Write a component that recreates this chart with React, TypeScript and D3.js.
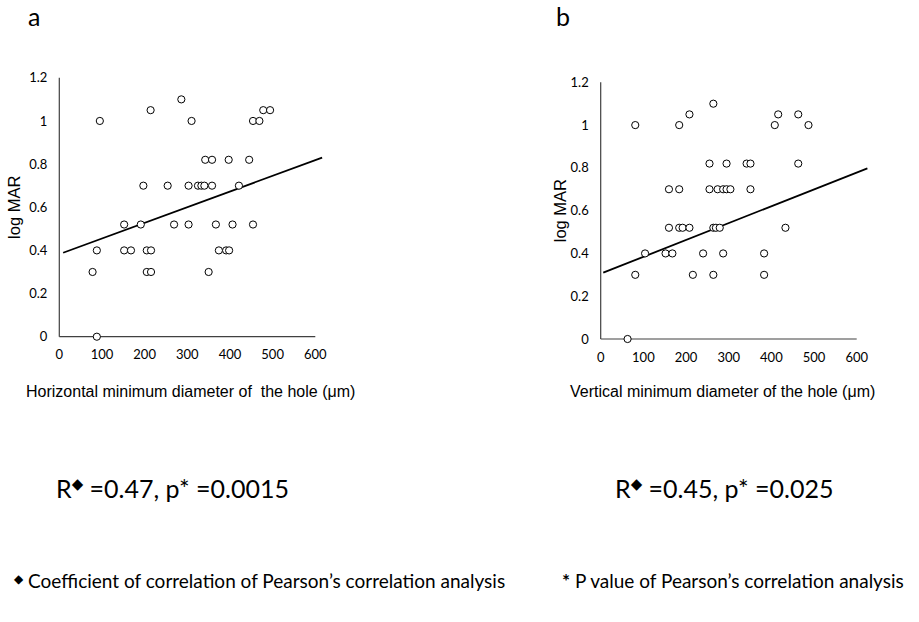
import React from "react";
import * as d3 from "d3";

// panel a: horizontal minimum diameter vs log MAR
const horizDiameter = [95, 78, 88, 88, 152, 168, 152, 191, 197, 205, 215, 205, 215, 214, 254, 269, 286, 303, 303, 310,
    325, 333, 340, 358, 342, 358, 350, 367, 374, 391, 398, 397, 406, 421, 445, 454, 454, 469, 478, 494];
const logMarA = [1.0, 0.3, 0.4, 0, 0.4, 0.4, 0.52, 0.52, 0.7, 0.4, 0.4, 0.3, 0.3, 1.05, 0.7, 0.52, 1.1, 0.7, 0.52, 1.0,
    0.7, 0.7, 0.7, 0.7, 0.82, 0.82, 0.3, 0.52, 0.4, 0.4, 0.4, 0.82, 0.52, 0.7, 0.82, 0.52, 1.0, 1.0, 1.05, 1.05];
const trendA = [[9, 0.389], [616, 0.83]];

// panel b: vertical minimum diameter vs log MAR
const vertDiameter = [63, 81, 81, 104, 152, 168, 160, 184, 160, 184, 192, 208, 184, 208, 216, 240, 255, 255, 264, 264,
    270, 279, 264, 274, 287, 295, 304, 295, 287, 342, 351, 351, 383, 383, 408, 416, 433, 463, 463, 487];
const logMarB = [0, 1.0, 0.3, 0.4, 0.4, 0.4, 0.7, 0.7, 0.52, 0.52, 0.52, 0.52, 1.0, 1.05, 0.3, 0.4, 0.82, 0.7, 1.1, 0.52,
    0.52, 0.52, 0.3, 0.7, 0.7, 0.7, 0.7, 0.82, 0.4, 0.82, 0.82, 0.7, 0.4, 0.3, 1.0, 1.05, 0.52, 1.05, 0.82, 1.0];
const trendB = [[6, 0.31], [625, 0.798]];

const xTicks = [0, 100, 200, 300, 400, 500, 600];
const yTicks = [0, 0.2, 0.4, 0.6, 0.8, 1, 1.2];

const calibri = "Lato, 'Open Sans', sans-serif";
const arial = "'Liberation Sans', Arial, sans-serif";

interface PanelProps {
    letter: string;
    xs: number[];
    ys: number[];
    trend: number[][];
    left: number;
    bottom: number;
    top: number;
    xTitle: string;
    r: string;
    p: string;
    rX: number;
    titleX: number;
    yTitleX: number;
    letterX: number;
}

function Panel(props: PanelProps): JSX.Element {
    const {letter, xs, ys, trend, left, bottom, top, xTitle, r, p, rX, titleX, yTitleX, letterX} = props;

    const x = d3.scaleLinear().domain([0, 600]).range([left, left + 256]);
    const y = d3.scaleLinear().domain([0, 1.2]).range([bottom, top]);
    const line = d3.line<number[]>().x(d => x(d[0])).y(d => y(d[1]));

    return (
        <g>
            <text x={letterX} y={26} fontFamily={calibri} fontSize={25}>{letter}</text>

            {/* axes, no tick marks */}
            <line x1={x(0)} x2={x(0)} y1={y(0)} y2={y(1.2)} stroke="#404040" strokeWidth={1.2}/>
            <line x1={x(0)} x2={x(600)} y1={y(0)} y2={y(0)} stroke="#404040" strokeWidth={1.2}/>

            {yTicks.map(t => (
                <text key={t} x={x(0) - 12} y={y(t)} dy="0.35em" textAnchor="end"
                      fontFamily={calibri} fontSize={13}>{d3.format("~g")(t)}</text>
            ))}
            {xTicks.map(t => (
                <text key={t} x={x(t)} y={y(0) + 18} dy="0.35em" textAnchor="middle"
                      fontFamily={calibri} fontSize={13}>{t}</text>
            ))}

            <text transform={`translate(${yTitleX}, ${(y(0) + y(1.2)) / 2}) rotate(-90)`} textAnchor="middle"
                  dy="0.35em" fontFamily={arial} fontSize={16.5}>log MAR</text>
            <text x={titleX} y={397} fontFamily={arial} fontSize={16} style={{whiteSpace: "pre"}}>{xTitle}</text>

            <path d={line(trend) || ""} fill="none" stroke="#000" strokeWidth={1.8}/>

            {xs.map((v, i) => (
                <circle key={i} cx={x(v)} cy={y(ys[i])} r={3.6} fill="#fff" stroke="#000" strokeWidth={1}/>
            ))}

            <text x={rX} y={498} fontFamily={calibri} fontSize={25}>
                R<tspan fontFamily="'DejaVu Sans'" fontSize={15} dy={-9}>◆</tspan>
                <tspan dy={9}> =0.{r}, p</tspan>* =0.{p}
            </text>
        </g>
    );
}

export default function App(): JSX.Element {
    return (
        <svg width={919} height={622} style={{position: "absolute", left: 0, top: 0, background: "#fff"}}>
            <rect width={919} height={622} fill="#fff"/>
            <Panel letter="a" xs={horizDiameter} ys={logMarA} trend={trendA}
                   left={59.3} bottom={336.7} top={77.8}
                   xTitle="Horizontal minimum diameter of  the hole (μm)" r="47" p="0015"
                   rX={56} titleX={26} yTitleX={14} letterX={28}/>
            <Panel letter="b" xs={vertDiameter} ys={logMarB} trend={trendB}
                   left={600.7} bottom={339} top={82.3}
                   xTitle="Vertical minimum diameter of the hole (μm)" r="45" p="025"
                   rX={615} titleX={570} yTitleX={560} letterX={556}/>

            <text x={14} y={588} fontFamily={calibri} fontSize={19}>
                <tspan fontFamily="'DejaVu Sans'" fontSize={12} dy={-5}>◆</tspan>
                <tspan dy={5}> Coefficient of correlation of Pearson’s correlation analysis</tspan>
            </text>
            <text x={562} y={588} fontFamily={calibri} fontSize={19}>
                <tspan fontWeight="bold">*</tspan> P value of Pearson’s correlation analysis
            </text>
        </svg>
    );
}
